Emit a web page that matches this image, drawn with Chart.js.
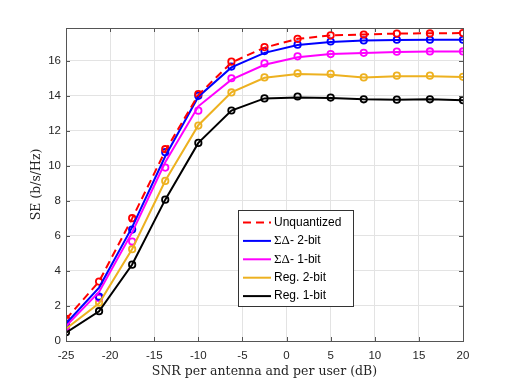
<!DOCTYPE html>
<html>
<head>
<meta charset="utf-8">
<script src="https://cdn.jsdelivr.net/npm/chart.js@4"></script>
<style>
  body { margin: 0; background: #fff; }
</style>
</head>
<body>
<canvas id="chart" width="512" height="384"></canvas>
<script>
// SNR sample points (dB)
const snr = [-25, -21.25, -17.5, -13.75, -10, -6.25, -2.5, 1.25, 5, 8.75, 12.5, 16.25, 20];

// curves (lines)
const unqLine = [1.25, 3.4, 7.0, 10.85, 14.05, 15.9, 16.75, 17.25, 17.45, 17.5, 17.55, 17.57, 17.58];
const sd2Line = [1.0, 3.05, 6.5, 10.55, 13.95, 15.62, 16.45, 16.9, 17.07, 17.15, 17.18, 17.2, 17.2];
const sd1Line = [0.85, 2.8, 6.2, 10.2, 13.4, 14.92, 15.77, 16.2, 16.38, 16.44, 16.5, 16.53, 16.53];
const reg2Line = [0.7, 2.15, 5.25, 9.15, 12.32, 14.2, 15.03, 15.25, 15.2, 15.05, 15.12, 15.12, 15.07];
const reg1Line = [0.48, 1.7, 4.37, 8.07, 11.31, 13.16, 13.85, 13.9, 13.88, 13.8, 13.77, 13.8, 13.75];

// markers (circles)
const unqMk = [1.26, 3.39, 7.01, 10.95, 14.1, 15.95, 16.78, 17.25, 17.45, 17.5, 17.55, 17.56, 17.58];
const sd2Mk = [1.0, 2.53, 6.36, 10.78, 14.0, 15.67, 16.55, 16.92, 17.1, 17.16, 17.2, 17.2, 17.2];
const sd1Mk = [0.8, 2.45, 5.68, 9.9, 13.15, 15.0, 15.85, 16.25, 16.38, 16.45, 16.52, 16.53, 16.53];
const reg2Mk = [0.7, 2.19, 5.24, 9.14, 12.3, 14.19, 15.05, 15.28, 15.25, 15.05, 15.15, 15.15, 15.08];
const reg1Mk = [0.5, 1.7, 4.36, 8.07, 11.31, 13.16, 13.85, 13.96, 13.9, 13.8, 13.78, 13.8, 13.75];

const labels = ['Unquantized', 'ΣΔ- 2-bit', 'ΣΔ- 1-bit', 'Reg. 2-bit', 'Reg. 1-bit'];
const colors = ['#ff0000', '#0000ff', '#ff00ff', '#edb120', '#000000'];

const xTicks = [-25, -20, -15, -10, -5, 0, 5, 10, 15, 20];
const yTicks = [0, 2, 4, 6, 8, 10, 12, 14, 16];

const lines = [unqLine, sd2Line, sd1Line, reg2Line, reg1Line];
const marks = [unqMk, sd2Mk, sd1Mk, reg2Mk, reg1Mk];

const pts = arr => arr.map((v, i) => ({x: snr[i], y: v}));

const datasets = [];
lines.forEach((arr, i) => {
  datasets.push({
    label: labels[i],
    data: pts(arr),
    borderColor: colors[i],
    borderWidth: 2,
    borderDash: i === 0 ? [8, 5] : [],
    pointRadius: 0,
    fill: false,
    isLegend: true
  });
});
marks.forEach((arr, i) => {
  datasets.push({
    label: labels[i] + ' mk',
    data: pts(arr),
    showLine: false,
    borderColor: colors[i],
    backgroundColor: 'rgba(255,255,255,0)',
    pointRadius: 3.2,
    pointBorderWidth: 1.8
  });
});

const frame = {
  id: 'frame',
  afterDraw(chart) {
    const {ctx, chartArea: a, scales: {x, y}} = chart;
    ctx.save();
    ctx.strokeStyle = '#555';
    ctx.lineWidth = 1;
    ctx.strokeRect(a.left + 0.5, a.top + 0.5, a.right - a.left, a.bottom - a.top);
    ctx.beginPath();
    xTicks.forEach(v => {
      const px = Math.round(x.getPixelForValue(v)) + 0.5;
      ctx.moveTo(px, a.bottom); ctx.lineTo(px, a.bottom - 4);
      ctx.moveTo(px, a.top); ctx.lineTo(px, a.top + 4);
    });
    yTicks.forEach(v => {
      const py = Math.round(y.getPixelForValue(v)) + 0.5;
      ctx.moveTo(a.left, py); ctx.lineTo(a.left + 4, py);
      ctx.moveTo(a.right, py); ctx.lineTo(a.right - 4, py);
    });
    ctx.stroke();

    // legend box
    const bx = 238, by = 210, bw = 115, bh = 96;
    ctx.fillStyle = '#fff';
    ctx.fillRect(bx, by, bw, bh);
    ctx.strokeStyle = '#333';
    ctx.strokeRect(bx + 0.5, by + 0.5, bw, bh);
    const items = chart.data.datasets.filter(d => d.isLegend);
    items.forEach((d, i) => {
      const ry = by + 12.5 + i * 18.4;
      ctx.strokeStyle = d.borderColor;
      ctx.lineWidth = 2;
      ctx.setLineDash(d.borderDash || []);
      ctx.beginPath();
      ctx.moveTo(bx + 5, ry); ctx.lineTo(bx + 33, ry);
      ctx.stroke();
      ctx.setLineDash([]);
      ctx.fillStyle = '#000';
      ctx.textBaseline = 'middle';
      let tx = bx + 36;
      let txt = d.label;
      if (txt.startsWith('ΣΔ')) {
        ctx.font = '13px "Liberation Serif"';
        ctx.fillText('ΣΔ', tx, ry);
        tx += ctx.measureText('ΣΔ').width;
        txt = txt.slice(2);
      }
      ctx.font = '12px "Liberation Sans"';
      ctx.fillText(txt, tx, ry);
    });
    ctx.restore();
  }
};

new Chart(document.getElementById('chart').getContext('2d'), {
  type: 'line',
  data: {datasets},
  options: {
    responsive: false,
    animation: false,
    layout: {padding: {top: 28, right: 49, left: 0, bottom: 0}},
    plugins: {legend: {display: false}, tooltip: {enabled: false}},
    scales: {
      x: {
        type: 'linear',
        min: -25, max: 20,
        afterFit: s => { s.height = 43; },
        afterBuildTicks: s => { s.ticks = xTicks.map(v => ({value: v})); },
        grid: {color: '#e3e3e3', drawTicks: false},
        border: {color: '#555'},
        ticks: {padding: 8, color: '#262626', font: {family: 'Liberation Sans', size: 11.5}, maxRotation: 0},
        title: {display: true, text: 'SNR per antenna and per user (dB)', color: '#262626',
          font: {family: 'DejaVu Serif', size: 12.5}, padding: {top: 0, bottom: 5}}
      },
      y: {
        min: 0, max: 17.87,
        afterFit: s => { s.width = 66; },
        afterBuildTicks: s => { s.ticks = yTicks.map(v => ({value: v})); },
        grid: {color: '#e3e3e3', drawTicks: false},
        border: {color: '#555'},
        ticks: {padding: 5, color: '#262626', font: {family: 'Liberation Sans', size: 11.5}},
        title: {display: true, text: 'SE (b/s/Hz)', color: '#262626',
          font: {family: 'DejaVu Serif', size: 12.5}, padding: {top: 29, bottom: 0}}
      }
    }
  },
  plugins: [frame]
});
</script>
</body>
</html>
